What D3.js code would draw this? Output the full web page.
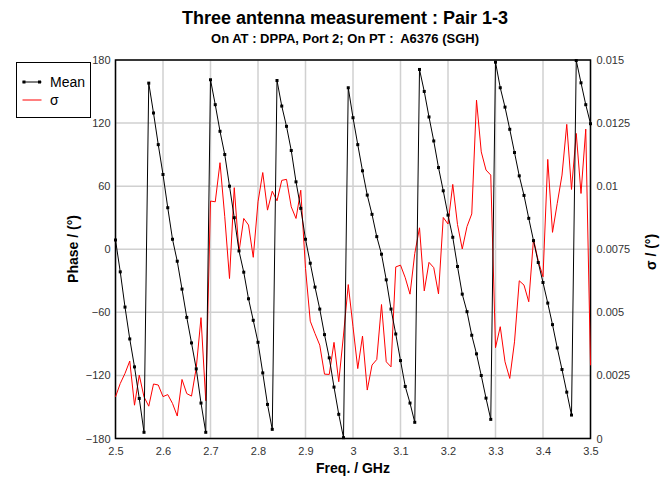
<!DOCTYPE html>
<html>
<head>
<meta charset="utf-8">
<script src="https://cdn.jsdelivr.net/npm/d3@7"></script>
<style>
  body { margin: 0; background: #fff; }
  text { font-family: "Liberation Sans", Arial, sans-serif; }
</style>
</head>
<body>
<svg id="chart" width="667" height="478"></svg>
<script>
// frequency grid (GHz)
var freqs = [
  2.50, 2.51, 2.52, 2.53, 2.54, 2.55, 2.56, 2.57, 2.58, 2.59,
  2.60, 2.61, 2.62, 2.63, 2.64, 2.65, 2.66, 2.67, 2.68, 2.69,
  2.70, 2.71, 2.72, 2.73, 2.74, 2.75, 2.76, 2.77, 2.78, 2.79,
  2.80, 2.81, 2.82, 2.83, 2.84, 2.85, 2.86, 2.87, 2.88, 2.89,
  2.90, 2.91, 2.92, 2.93, 2.94, 2.95, 2.96, 2.97, 2.98, 2.99,
  3.00, 3.01, 3.02, 3.03, 3.04, 3.05, 3.06, 3.07, 3.08, 3.09,
  3.10, 3.11, 3.12, 3.13, 3.14, 3.15, 3.16, 3.17, 3.18, 3.19,
  3.20, 3.21, 3.22, 3.23, 3.24, 3.25, 3.26, 3.27, 3.28, 3.29,
  3.30, 3.31, 3.32, 3.33, 3.34, 3.35, 3.36, 3.37, 3.38, 3.39,
  3.40, 3.41, 3.42, 3.43, 3.44, 3.45, 3.46, 3.47, 3.48, 3.49,
  3.50
];

// mean phase (deg)
var meanPhase = [
  8.8, -21.5, -55, -85.3, -111.9, -141.9, -174.1, 158, 129.6, 99.5,
  71.1, 39.5, 9.5, -11.4, -37.9, -64.8, -89.1, -113.8, -146.3, -174.1,
  161.2, 137.5, 112.2, 90.1, 60, 30, -1.6, -21.8, -47.1, -67.6,
  -88.5, -117.6, -147.6, -171.3, 160.5, 136.2, 116.9, 93.9, 64.1, 38.9,
  9.5, -13.3, -36, -56.9, -81.2, -103.3, -131.1, -157, -179.2, 153.6,
  125.1, 99.5, 74.6, 51.5, 33.2, 12, -4.7, -29.1, -56.9, -80.6,
  -105.9, -130.5, -146.3, -164.6, 171, 150.1, 125.8, 103, 77.7, 55.6,
  32.5, 11.4, -16.4, -42.7, -59.4, -81.8, -99.5, -120.1, -141.6, -161.8,
  177.9, 153.6, 135.2, 114.1, 92, 69.8, 51.2, 29.4, 8.2, -12.6,
  -31.6, -51.2, -71.7, -93.9, -114.4, -135.9, -157.7, 179.5, 158.3, 137.5,
  119.4
];

// standard deviation (deg)
var sigma = [
  0.00165, 0.00218, 0.00258, 0.00307, 0.00132, 0.00251, 0.00165, 0.00128, 0.00216, 0.00212,
  0.00166, 0.00174, 0.00139, 0.00089, 0.00234, 0.00178, 0.00168, 0.0028, 0.00479, 0.0015,
  0.00941, 0.00938, 0.01093, 0.00879, 0.00634, 0.00994, 0.0074, 0.00872, 0.00846, 0.00718,
  0.00938, 0.01054, 0.00905, 0.0098, 0.00942, 0.01023, 0.01027, 0.00918, 0.00872, 0.00984,
  0.00674, 0.00465, 0.00416, 0.0037, 0.00255, 0.00254, 0.00381, 0.00225, 0.0041, 0.0061,
  0.00443, 0.00277, 0.00406, 0.00192, 0.00291, 0.00313, 0.00531, 0.00304, 0.00284, 0.0068,
  0.00687, 0.00637, 0.00572, 0.00733, 0.00835, 0.00585, 0.00698, 0.00677, 0.00573, 0.00876,
  0.0085, 0.01007, 0.00848, 0.00751, 0.0084, 0.0089, 0.01341, 0.01136, 0.01064, 0.01044,
  0.0036, 0.00443, 0.00304, 0.00238, 0.00383, 0.00625, 0.00608, 0.00542, 0.0079, 0.00704,
  0.00641, 0.01106, 0.00817, 0.00932, 0.01044, 0.01245, 0.00987, 0.01209, 0.00971, 0.01226,
  0.0029
];

var xTicks = [2.5, 2.6, 2.7, 2.8, 2.9, 3.0, 3.1, 3.2, 3.3, 3.4, 3.5];
var xTickLabels = ['2.5', '2.6', '2.7', '2.8', '2.9', '3', '3.1', '3.2', '3.3', '3.4', '3.5'];
var phaseTicks = [-180, -120, -60, 0, 60, 120, 180];
var sigmaTicks = [0, 0.0025, 0.005, 0.0075, 0.01, 0.0125, 0.015];
var sigmaTickLabels = ['0', '0.0025', '0.005', '0.0075', '0.01', '0.0125', '0.015'];

var svg = d3.select('#chart');
var plotLeft = 115.5, plotRight = 590.5, plotTop = 60, plotBottom = 438.5;

var x = d3.scaleLinear().domain([2.5, 3.5]).range([plotLeft, plotRight]);
var yPhase = d3.scaleLinear().domain([-180, 180]).range([plotBottom, plotTop]);
var ySigma = d3.scaleLinear().domain([0, 0.015]).range([plotBottom, plotTop]);

// grid
var grid = svg.append('g').attr('class', 'grid');
grid.selectAll('line.gx')
  .data(xTicks)
  .enter()
  .append('line')
  .attr('class', 'gx')
  .attr('x1', function(d) { return x(d); })
  .attr('x2', function(d) { return x(d); })
  .attr('y1', plotTop)
  .attr('y2', plotBottom)
  .attr('stroke', '#d0d0d0')
  .attr('stroke-width', 1.5);
grid.selectAll('line.gy')
  .data(phaseTicks)
  .enter()
  .append('line')
  .attr('class', 'gy')
  .attr('x1', plotLeft)
  .attr('x2', plotRight)
  .attr('y1', function(d) { return yPhase(d); })
  .attr('y2', function(d) { return yPhase(d); })
  .attr('stroke', '#d0d0d0')
  .attr('stroke-width', 1.5);

// axes
var xAxis = d3.axisBottom(x)
  .tickValues(xTicks)
  .tickFormat(function(d, i) { return xTickLabels[i]; })
  .tickSize(0)
  .tickPadding(9);
var yAxisL = d3.axisLeft(yPhase)
  .tickValues(phaseTicks)
  .tickSize(0)
  .tickPadding(5);
var yAxisR = d3.axisRight(ySigma)
  .tickValues(sigmaTicks)
  .tickFormat(function(d, i) { return sigmaTickLabels[i]; })
  .tickSize(0)
  .tickPadding(6);

function styleAxis(g) {
  g.select('.domain').remove();
  g.selectAll('text')
    .style('font-family', '"Liberation Sans", Arial, sans-serif')
    .style('font-size', '11px')
    .attr('fill', '#333');
}

svg.append('g').attr('transform', 'translate(0,' + plotBottom + ')').call(xAxis).call(styleAxis);
svg.append('g').attr('transform', 'translate(' + plotLeft + ',0)').call(yAxisL).call(styleAxis);
svg.append('g').attr('transform', 'translate(' + plotRight + ',0)').call(yAxisR).call(styleAxis);

// frame
svg.append('rect')
  .attr('x', plotLeft)
  .attr('y', plotTop)
  .attr('width', plotRight - plotLeft)
  .attr('height', plotBottom - plotTop)
  .attr('fill', 'none')
  .attr('stroke', '#000')
  .attr('stroke-width', 1.5);

var meanData = freqs.map(function(f, i) { return { f: f, v: meanPhase[i] }; });
var sigmaData = freqs.map(function(f, i) { return { f: f, v: sigma[i] }; });

// sigma line
svg.append('path')
  .datum(sigmaData)
  .attr('fill', 'none')
  .attr('stroke', '#ff0000')
  .attr('stroke-width', 1)
  .attr('d', d3.line()
    .x(function(d) { return x(d.f); })
    .y(function(d) { return ySigma(d.v); }));

// mean line
svg.append('path')
  .datum(meanData)
  .attr('fill', 'none')
  .attr('stroke', '#000')
  .attr('stroke-width', 1)
  .attr('d', d3.line()
    .x(function(d) { return x(d.f); })
    .y(function(d) { return yPhase(d.v); }));

svg.selectAll('rect.dot')
  .data(meanData)
  .enter()
  .append('rect')
  .attr('class', 'dot')
  .attr('x', function(d) { return x(d.f) - 1.5; })
  .attr('y', function(d) { return yPhase(d.v) - 1.5; })
  .attr('width', 3)
  .attr('height', 3)
  .attr('fill', '#000');

// titles
svg.append('text')
  .attr('x', 345)
  .attr('y', 24)
  .attr('text-anchor', 'middle')
  .style('font-size', '18px')
  .style('font-weight', 'bold')
  .text('Three antenna measurement : Pair 1-3');
svg.append('text')
  .attr('x', 345)
  .attr('y', 43)
  .attr('text-anchor', 'middle')
  .style('font-size', '13px')
  .style('font-weight', 'bold')
  .style('white-space', 'pre')
  .text('On AT : DPPA, Port 2; On PT :  A6376 (SGH)');

// axis labels
svg.append('text')
  .attr('x', 353)
  .attr('y', 473)
  .attr('text-anchor', 'middle')
  .style('font-size', '14px')
  .style('font-weight', 'bold')
  .text('Freq. / GHz');
svg.append('text')
  .attr('transform', 'translate(78,249) rotate(-90)')
  .attr('text-anchor', 'middle')
  .style('font-size', '14px')
  .style('font-weight', 'bold')
  .text('Phase / (°)');
svg.append('text')
  .attr('transform', 'translate(656,252) rotate(-90)')
  .attr('text-anchor', 'middle')
  .style('font-size', '14px')
  .style('font-weight', 'bold')
  .text('σ / (°)');

// legend
var legend = svg.append('g').attr('class', 'legend');
legend.append('rect')
  .attr('x', 16.5)
  .attr('y', 62.5)
  .attr('width', 74)
  .attr('height', 55)
  .attr('fill', '#fff')
  .attr('stroke', '#000')
  .attr('stroke-width', 1);
legend.append('line')
  .attr('x1', 22.5).attr('x2', 41.5)
  .attr('y1', 82).attr('y2', 82)
  .attr('stroke', '#000');
legend.selectAll('rect.ldot')
  .data([24, 39.5])
  .enter()
  .append('rect')
  .attr('class', 'ldot')
  .attr('x', function(d) { return d - 1.5; })
  .attr('y', 80.5)
  .attr('width', 3)
  .attr('height', 3)
  .attr('fill', '#000');
legend.append('text')
  .attr('x', 50)
  .attr('y', 87)
  .style('font-size', '14px')
  .text('Mean');
legend.append('line')
  .attr('x1', 22.5).attr('x2', 41.5)
  .attr('y1', 100).attr('y2', 100)
  .attr('stroke', '#ff0000');
legend.append('text')
  .attr('x', 50)
  .attr('y', 105)
  .style('font-size', '14px')
  .text('σ');
</script>
</body>
</html>
